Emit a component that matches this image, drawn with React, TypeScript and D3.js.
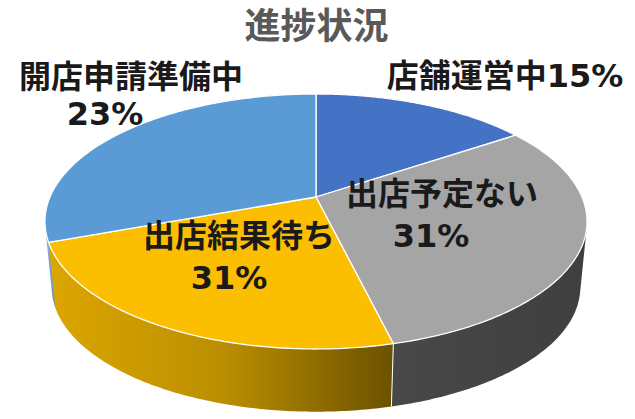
import React from 'react';
import * as d3 from 'd3';

const categories = ['店舗運営中', '出店予定ない', '出店結果待ち', '開店申請準備中'];
// drawn slice sizes (the printed labels differ from them)
const sliceValues = [15.6, 30.6, 23.2, 30.6];
const labelTexts = ['15%', '31%', '31%', '23%'];
const topColors = ['#4472c4', '#a5a5a5', '#fcbe00', '#5b9bd5'];
const title = '進捗状況';

const FONT = '"DejaVu Sans", "Noto Sans CJK JP", sans-serif';
const CJK = '"Noto Sans CJK JP", sans-serif';

// perspective projection of the pie disc
const cx = 316, cy = 197;
const A = 266, B = 122.8, k = 0.192;
const wallScale = 0.975, wallY = 263.5;

const project = (angle: number, wall = false): [number, number] => {
    const u = Math.sin(angle), v = -Math.cos(angle);
    const w = 1 - k * v;
    const s = wall ? wallScale : 1;
    return [cx + (s * A * u) / w, (wall ? wallY : cy) + (s * B * v) / w];
};

const arcPoints = (a0: number, a1: number, wall = false) =>
    d3.range(0, 121).map((i) => project(a0 + ((a1 - a0) * i) / 120, wall));

const pieGen = d3.pie<number>().sort(null).value((d) => d);
const slices = pieGen(sliceValues);
const line = d3.line();

// back walls first so the front ones stay on top
const wallOrder = [3, 0, 1, 2];

export default function App() {
    return (
        <svg width={635} height={419} style={{ position: 'absolute', left: 0, top: 0, background: '#fff' }}>
            <defs>
                <linearGradient id="wall-1" gradientUnits="userSpaceOnUse" x1={392} x2={587} y1={0} y2={0}>
                    <stop offset="0" stopColor="#484848" />
                    <stop offset="1" stopColor="#3f3f3f" />
                </linearGradient>
                <linearGradient id="wall-2" gradientUnits="userSpaceOnUse" x1={50} x2={394} y1={0} y2={0}>
                    <stop offset="0" stopColor="#dca600" />
                    <stop offset="0.5" stopColor="#bb8f00" />
                    <stop offset="1" stopColor="#6c5100" />
                </linearGradient>
                <linearGradient id="wall-3" gradientUnits="userSpaceOnUse" x1={45} x2={60} y1={0} y2={0}>
                    <stop offset="0" stopColor="#8fb6da" />
                    <stop offset="1" stopColor="#4a80b4" />
                </linearGradient>
                <linearGradient id="wall-0" gradientUnits="userSpaceOnUse" x1={316} x2={587} y1={0} y2={0}>
                    <stop offset="0" stopColor="#2f5597" />
                    <stop offset="1" stopColor="#2f5597" />
                </linearGradient>
            </defs>

            {/* side walls */}
            {wallOrder.map((i) => {
                const d = slices[i];
                const hull = d3.polygonHull([...arcPoints(d.startAngle, d.endAngle), ...arcPoints(d.startAngle, d.endAngle, true)]) || [];
                return <path key={i} d={line(hull) + 'Z'} fill={`url(#wall-${i})`} />;
            })}
            {/* divider between the yellow and grey walls */}
            <path
                d={line([project(slices[2].startAngle), project(slices[2].startAngle, true)]) || ''}
                stroke="#fff"
                strokeWidth={1}
                fill="none"
            />

            {/* top faces */}
            {slices.map((d, i) => {
                const pts = [[cx, cy] as [number, number], ...arcPoints(d.startAngle, d.endAngle)];
                return <path key={i} d={line(pts) + 'Z'} fill={topColors[i]} stroke="#fff" strokeWidth={1.3} strokeLinejoin="round" />;
            })}

            <text x={316.5} y={38.5} textAnchor="middle" fontFamily={CJK} fontWeight={700} fontSize={36} fill="#595959">
                {title}
            </text>

            <g fontFamily={FONT} fontWeight={700} fontSize={32} fill="#1a1a1a">
                <text x={505} y={87} textAnchor="middle">
                    {categories[0] + labelTexts[0]}
                </text>
                <text x={442} y={205} textAnchor="middle">{categories[1]}</text>
                <text x={431} y={247} textAnchor="middle">{labelTexts[1]}</text>
                <text x={239} y={247} textAnchor="middle">{categories[2]}</text>
                <text x={229} y={289} textAnchor="middle">{labelTexts[2]}</text>
                <text x={131} y={88} textAnchor="middle">{categories[3]}</text>
                <text x={105} y={125} textAnchor="middle">{labelTexts[3]}</text>
            </g>
        </svg>
    );
}
